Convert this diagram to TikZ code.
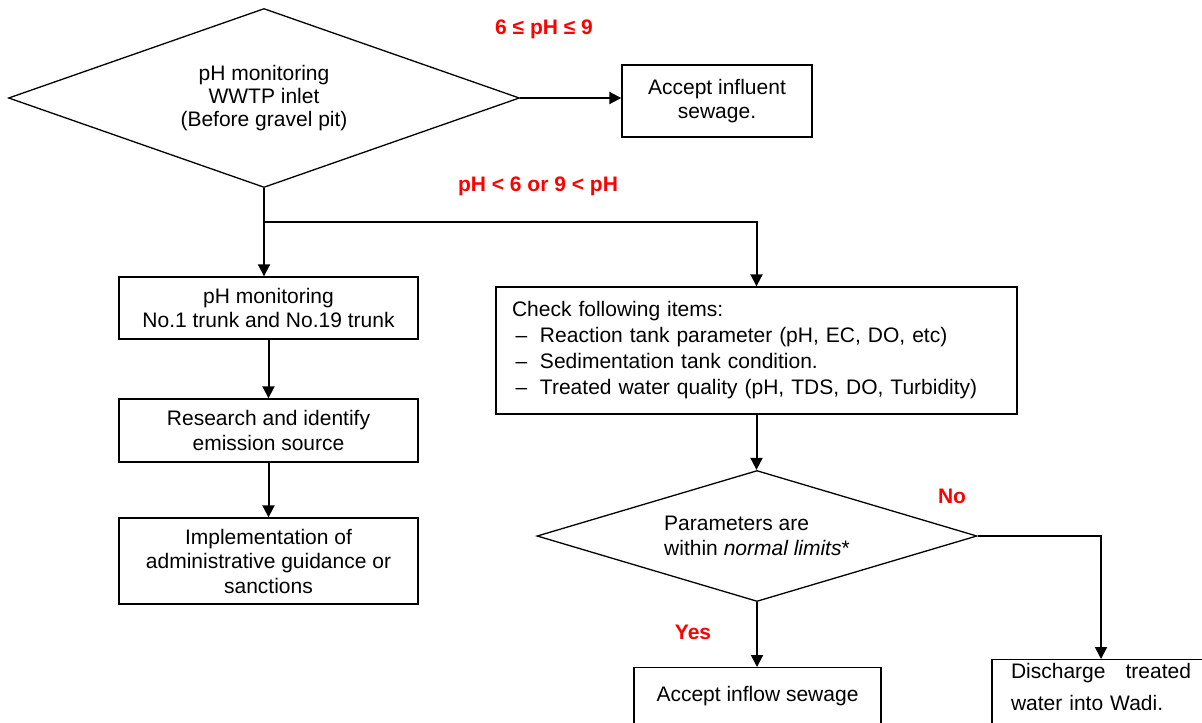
\documentclass[tikz,border=0pt]{standalone}
\usepackage{fontspec}
\setmainfont{Liberation Sans}
\usetikzlibrary{arrows.meta, shapes.geometric, positioning, calc}

\begin{document}
\begin{tikzpicture}[x=0.5pt, y=-0.5pt, >={Triangle[length=6pt,width=6pt]},
  font=\fontsize{10.5pt}{12.25pt}\selectfont,
  decision/.style={diamond, draw, line width=0.65pt, inner sep=0pt, align=center},
  procbox/.style={rectangle, draw, line width=0.7pt, inner sep=0pt, align=center},
  cond/.style={text=red, font=\fontsize{10.5pt}{12.25pt}\selectfont\bfseries},
  flow/.style={->, line width=1pt}]
  \useasboundingbox (0,0) rectangle (1202,722);
  \clip (0,0) rectangle (1202,722);

  % inlet check
  \node[decision, aspect=2.85, minimum width=255.5pt, minimum height=89.5pt, font=\fontsize{10.5pt}{11.5pt}\selectfont] (inlet) at (264,98) {pH monitoring\\WWTP inlet\\(Before gravel pit)};
  \node[procbox, minimum width=95pt, minimum height=36pt] (accept) at (717,101) {Accept influent\\sewage.};
  \node[cond] (okph) at (544,29) {6 ≤ pH ≤ 9};
  \node[cond] (badph) at (538,186) {pH < 6 or 9 < pH};
  \coordinate (split) at ($(inlet.south)+(0,34)$);

  % left branch
  \node[procbox, minimum width=149.5pt, minimum height=31pt] (trunk) at (268.5,308) {pH monitoring\\No.1 trunk and No.19 trunk};
  \node[procbox, minimum width=149.5pt, minimum height=31.5pt] (source) at (268.5,430.5) {Research and identify\\ emission source};
  \node[procbox, minimum width=149.5pt, minimum height=43pt] (sanction) at (268.5,561) {Implementation of\\administrative guidance or\\sanctions};

  % right branch
  \node[procbox, minimum width=260.5pt, minimum height=63.5pt, text width=244.5pt, align=left, font=\fontsize{10.5pt}{13pt}\selectfont] (check) at (756.5,350.5) {Check following items:\\
    \makebox[14pt][l]{\,--}Reaction tank parameter (pH, EC, DO, etc)\\
    \makebox[14pt][l]{\,--}Sedimentation tank condition.\\
    \makebox[14pt][l]{\,--}Treated water quality (pH, TDS, DO, Turbidity)};
  \node[decision, aspect=3.36, minimum width=220pt, minimum height=65.5pt, align=left] (limits) at (757,536) {Parameters are\\within \textit{normal limits}*};
  \node[cond] (no) at (952,496) {No};
  \node[cond] (yes) at (693,632) {Yes};
  \node[procbox, anchor=north, minimum width=123.5pt, text height=16.75pt, text depth=30pt] (inflow) at (757.5,667) {Accept inflow sewage};
  \node[procbox, anchor=north, minimum width=109pt, text width=90pt, align=left, text height=9.5pt, text depth=30pt, font=\fontsize{10.5pt}{16pt}\selectfont] (wadi) at (1101,659) {Discharge\hfill treated\\water into Wadi.};

  % connectors
  \draw[flow] (inlet.east) -- (inlet.east -| accept.west);
  \draw[flow] (inlet.south) -- (inlet.south |- trunk.north);
  \draw[flow] (split) -| (check.north);
  \draw[flow] (trunk) -- (source);
  \draw[flow] (source) -- (sanction);
  \draw[flow] (check.south) -- (check.south |- limits.north);
  \draw[flow] (limits.south) -- (limits.south |- inflow.north);
  \draw[flow] (limits.east) -| (wadi.north);
\end{tikzpicture}
\end{document}
